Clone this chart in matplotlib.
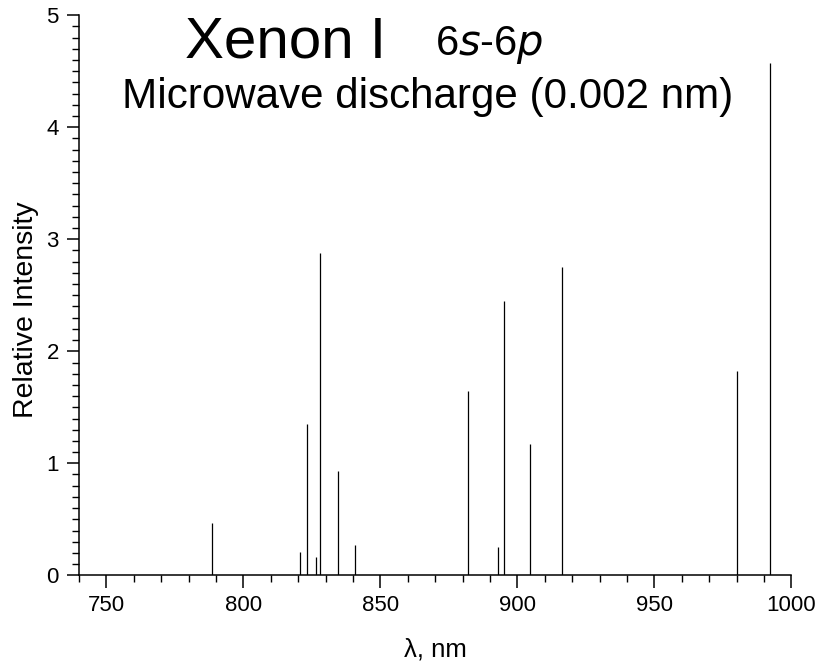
import matplotlib
matplotlib.use('Agg')
import matplotlib.pyplot as plt
from matplotlib.ticker import MultipleLocator

# Xe I 6s-6p lines, wavelength (nm) and relative intensity
wavelength = [788.7, 820.6, 823.2, 826.7, 828.0, 834.7, 840.9,
              881.9, 892.9, 895.2, 904.5, 916.3, 980.0, 992.3]
intensity = [0.47, 0.21, 1.35, 0.16, 2.88, 0.93, 0.27,
             1.65, 0.25, 2.45, 1.17, 2.75, 1.82, 4.57]

x_ticks = [750, 800, 850, 900, 950, 1000]
y_ticks = [0, 1, 2, 3, 4, 5]

plt.rcParams['font.family'] = ['Liberation Sans', 'DejaVu Sans']

W, H = 816, 663
fig = plt.figure(figsize=(W / 100, H / 100), dpi=100)
ax = fig.add_axes([78.9 / W, 1 - 575.3 / H, (791.3 - 78.9) / W, 560 / H])

ax.vlines(wavelength, 0, intensity, color='black', linewidth=0.9)

ax.set_xlim(740, 1000)
ax.set_ylim(0, 5)
ax.set_xticks(x_ticks)
ax.set_yticks(y_ticks)
ax.xaxis.set_minor_locator(MultipleLocator(10))
ax.yaxis.set_minor_locator(MultipleLocator(0.1))

for s in ['top', 'right']:
    ax.spines[s].set_visible(False)
for s in ['left', 'bottom']:
    ax.spines[s].set_linewidth(1.1)

ax.tick_params(which='major', direction='out', length=9, width=1.1, labelsize=16, pad=5.5)
ax.tick_params(which='minor', direction='out', length=5, width=1.0)

ax.set_xlabel('λ, nm', fontsize=18.5)
ax.xaxis.set_label_coords(0.5, (575.3 - 637) / 560)
ax.set_ylabel('Relative Intensity', fontsize=20.5)
ax.yaxis.set_label_coords((39 - 78.9) / 712.4, (575.3 - 310) / 560)

fig.text(185 / W, 1 - 58 / H, 'Xenon I', fontsize=42, ha='left', va='baseline')
fig.text(435 / W, 1 - 55 / H, '6$\\it{s}$-6$\\it{p}$', fontsize=30, ha='left', va='baseline')
fig.text(428 / W, 1 - 108 / H, 'Microwave discharge (0.002 nm)', fontsize=30.3,
         ha='center', va='baseline')

fig.savefig('out.png', dpi=100)
